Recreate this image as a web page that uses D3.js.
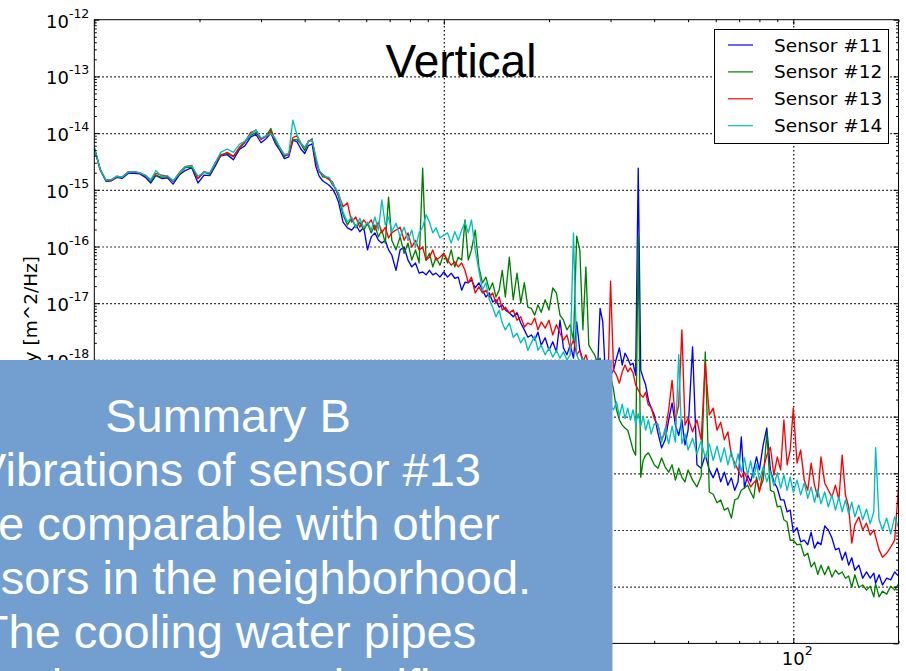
<!DOCTYPE html>
<html lang="en">
<head>
<meta charset="UTF-8">
<title>Vertical</title>
<script src="https://d3js.org/d3.v7.min.js"></script>
<style>
  body { margin: 0; background: #fff; overflow: hidden; }
  svg { display: block; }
  .grid line { stroke: #000; stroke-width: 1.2; stroke-dasharray: 1.5,2.5; }
  .grid path, .ticks path { display: none; }
  .ticks line { stroke: #000; stroke-width: 1; }
  .tick-label { font-family: "DejaVu Sans", sans-serif; fill: #000; }
  .legend text { font-family: "DejaVu Sans", sans-serif; font-size: 18.5px; fill: #000; }
  .psd { fill: none; stroke-width: 1.35; stroke-linejoin: round; }
  .note text { font-family: "Liberation Sans", Arial, sans-serif; font-size: 47px; fill: #fff; }
</style>
</head>
<body>
<svg></svg>
<script>
// frequency bins [Hz]
const freqs = [
  1.0,1.04,1.08,1.12,1.16,1.2,1.25,1.3,1.35,1.4,
  1.45,1.5,1.56,1.62,1.68,1.75,1.82,1.9,1.98,2.06,
  2.14,2.22,2.3,2.4,2.5,2.6,2.7,2.8,2.9,3.0,
  3.1,3.2,3.3,3.4,3.5,3.6,3.7,3.8,3.9,4.0,
  4.1,4.2,4.3,4.4,4.5,4.6,4.7,4.8,4.9,5.0,
  5.15,5.3,5.45,5.6,5.75,5.9,6.05,6.2,6.35,6.5,
  6.65,6.8,6.95,7.1,7.3,7.5,7.7,7.9,8.1,8.3,
  8.5,8.7,8.9,9.1,9.3,9.5,9.75,10.0,
  10.25,10.5,10.75,11,11.25,11.5,11.75,12,12.3,12.6,
  12.9,13.2,13.5,13.8,14.1,14.4,14.7,15,15.4,15.8,
  16.2,16.6,17,17.4,17.8,18.2,18.6,19,19.5,20,
  20.5,21,21.5,22,22.5,23,23.5,24,24.5,25,
  25.5,26,26.5,27,27.5,28,28.5,29,29.5,30,
  30.6,31.2,31.8,32.4,33,33.6,34.2,34.8,35.4,36,
  36.6,37.2,37.8,38.5,39.2,40,41,42,43,44,
  45,46,47,48,49,50,51.5,53,54.5,56,
  57.5,59,60.5,62,63.5,65,66.5,68,69.5,71,
  72.5,74,75.5,77,78.5,80,82,84,86,88,
  90,92,94,96,98,100,102.5,105,107.5,110,
  112.5,115,117.5,120,123,126,129,132,135,138,
  141,144,147,150,154,158,162,166,170,172,
  176,180,185,190,195,200
];

// log10 of the PSD [m^2/Hz], one value per bin
const sensor11 = [
  -14.26,-14.65,-14.85,-14.84,-14.78,-14.80,-14.71,-14.71,-14.72,-14.78,
  -14.88,-14.75,-14.80,-14.79,-14.90,-14.74,-14.66,-14.61,-14.88,-14.74,
  -14.75,-14.58,-14.40,-14.38,-14.47,-14.29,-14.22,-14.07,-14.02,-14.17,
  -14.10,-14.00,-14.19,-14.31,-14.45,-14.42,-14.13,-14.15,-14.28,-14.36,
  -14.22,-14.19,-14.58,-14.76,-14.84,-14.88,-14.92,-14.98,-15.08,-15.22,
  -15.57,-15.67,-15.71,-15.62,-15.74,-15.66,-16.06,-15.83,-15.76,-15.89,
  -15.94,-15.89,-16.06,-16.15,-16.42,-16.06,-16.01,-16.24,-16.36,-16.29,
  -16.47,-16.45,-16.50,-16.42,-16.50,-16.47,-16.54,-16.45,
  -16.54,-16.47,-16.56,-16.54,-16.77,-16.63,-16.64,-16.59,-16.73,-16.64,
  -16.77,-16.89,-16.82,-16.98,-16.94,-17.07,-17.03,-17.12,-17.17,-17.24,
  -17.17,-17.35,-17.47,-17.60,-17.56,-17.65,-17.51,-17.74,-17.61,-17.83,
  -17.68,-17.86,-17.30,-17.79,-17.91,-17.74,-17.97,-17.33,-17.83,-18.00,
  -18.09,-18.18,-18.27,-18.36,-18.27,-17.09,-17.33,-18.27,-18.36,-18.27,
  -18.18,-17.97,-17.79,-18.09,-17.88,-17.97,-18.09,-18.06,-18.27,-14.62,
  -18.18,-18.32,-18.44,-18.71,-18.85,-18.97,-19.29,-19.55,-19.41,-19.06,
  -18.76,-19.15,-19.33,-19.06,-19.50,-19.24,-17.77,-19.85,-19.91,-19.68,
  -19.94,-20.08,-19.91,-20.15,-19.98,-20.21,-20.08,-20.30,-20.15,-19.36,
  -20.26,-20.03,-20.15,-19.94,-19.71,-19.94,-19.50,-19.20,-19.94,-20.15,
  -20.26,-20.47,-20.47,-20.68,-20.65,-21.04,-20.96,-21.21,-21.18,-21.26,
  -21.04,-21.32,-21.21,-21.26,-20.93,-21.00,-21.14,-21.35,-21.32,-21.53,
  -21.39,-21.62,-21.49,-21.71,-21.62,-21.85,-21.74,-21.85,-21.76,-21.94,
  -21.79,-21.97,-21.85,-21.88,-21.74,-21.81
];
const sensor12 = [
  -14.26,-14.64,-14.84,-14.82,-14.77,-14.78,-14.70,-14.68,-14.71,-14.75,
  -14.85,-14.74,-14.78,-14.77,-14.85,-14.72,-14.61,-14.60,-14.80,-14.69,
  -14.73,-14.54,-14.38,-14.36,-14.42,-14.27,-14.16,-14.04,-13.99,-14.10,
  -14.05,-13.92,-14.17,-14.27,-14.41,-14.37,-14.12,-14.11,-14.19,-14.31,
  -14.15,-14.10,-14.50,-14.66,-14.77,-14.78,-14.81,-14.91,-14.98,-15.12,
  -15.44,-15.62,-15.50,-15.67,-15.57,-15.71,-15.59,-15.76,-15.62,-15.83,
  -15.71,-15.94,-15.13,-15.89,-16.06,-15.83,-16.12,-15.94,-16.24,-16.06,
  -16.29,-14.62,-16.24,-16.12,-16.36,-16.19,-16.33,-16.12,
  -16.29,-16.06,-16.36,-16.19,-16.24,-15.53,-16.24,-16.06,-15.71,-16.36,
  -16.64,-16.54,-16.77,-16.64,-16.89,-16.77,-16.42,-16.89,-16.19,-16.94,
  -16.47,-17.00,-16.64,-17.07,-17.09,-17.21,-17.03,-17.16,-16.94,-17.12,
  -16.73,-16.82,-17.21,-17.30,-17.47,-17.38,-17.65,-15.82,-16.06,-17.47,
  -16.36,-17.74,-17.83,-17.91,-18.04,-17.97,-18.14,-18.21,-18.32,-18.27,
  -18.53,-18.88,-19.06,-19.15,-19.20,-19.24,-19.41,-19.59,-19.68,-15.80,
  -20.07,-19.77,-19.68,-19.64,-19.73,-19.85,-19.91,-19.73,-19.89,-19.98,
  -19.85,-20.12,-19.91,-20.07,-20.15,-19.94,-20.12,-20.24,-20.05,-17.86,
  -20.33,-20.37,-20.52,-20.47,-20.65,-20.61,-20.79,-20.47,-20.44,-20.30,
  -20.26,-20.21,-20.33,-20.44,-20.07,-20.30,-20.12,-19.29,-20.30,-20.33,
  -20.59,-20.58,-20.82,-20.86,-21.18,-21.18,-21.26,-21.25,-21.46,-21.41,
  -21.65,-21.57,-21.78,-21.62,-21.79,-21.64,-21.83,-21.71,-21.78,-21.74,
  -21.85,-21.81,-22.01,-21.79,-22.01,-21.97,-22.06,-21.99,-22.18,-21.95,
  -22.18,-22.08,-22.13,-21.99,-22.06,-21.95
];
const sensor13 = [
  -14.26,-14.65,-14.83,-14.83,-14.76,-14.78,-14.68,-14.69,-14.70,-14.75,
  -14.82,-14.71,-14.74,-14.76,-14.85,-14.70,-14.59,-14.57,-14.80,-14.68,
  -14.71,-14.52,-14.40,-14.34,-14.41,-14.25,-14.15,-13.99,-13.95,-14.11,
  -14.06,-13.97,-14.12,-14.26,-14.39,-14.38,-14.08,-14.05,-14.18,-14.26,
  -14.14,-14.13,-14.45,-14.68,-14.73,-14.78,-14.82,-14.86,-14.99,-15.08,
  -15.30,-15.23,-15.57,-15.48,-15.66,-15.53,-15.62,-15.53,-15.71,-15.57,
  -15.76,-15.66,-15.85,-15.76,-15.71,-15.66,-15.89,-15.76,-16.01,-15.89,
  -16.06,-16.01,-16.24,-16.19,-16.06,-16.24,-16.19,-16.12,
  -16.24,-16.33,-16.27,-16.36,-16.29,-16.42,-16.64,-16.54,-16.82,-16.71,
  -16.82,-16.77,-16.89,-16.82,-17.00,-16.89,-17.12,-17.07,-17.17,-17.12,
  -17.30,-17.24,-17.42,-17.35,-17.38,-17.26,-17.47,-17.33,-17.44,-17.30,
  -17.56,-17.38,-17.53,-17.65,-17.56,-17.79,-17.65,-17.91,-17.83,-18.04,
  -17.91,-18.09,-18.18,-18.14,-18.27,-18.21,-18.36,-18.27,-18.44,-16.61,
  -18.18,-18.27,-18.41,-18.21,-18.09,-18.21,-18.14,-18.23,-18.44,-18.53,
  -18.62,-18.66,-18.57,-18.80,-18.83,-19.03,-19.15,-19.41,-19.27,-18.88,
  -18.36,-19.06,-18.80,-17.47,-19.15,-19.03,-19.27,-19.06,-19.41,-18.06,
  -18.97,-18.85,-19.24,-19.10,-19.41,-19.27,-19.68,-19.82,-19.94,-20.07,
  -19.98,-20.12,-20.24,-20.17,-20.12,-20.33,-19.94,-19.68,-19.54,-20.03,
  -19.71,-19.94,-19.06,-19.85,-19.59,-18.85,-19.82,-19.59,-20.12,-20.30,
  -19.82,-20.21,-20.42,-19.71,-20.17,-20.30,-20.42,-20.21,-20.47,-19.68,
  -20.38,-20.59,-21.23,-20.91,-20.77,-21.00,-20.88,-21.09,-21.00,-21.12,
  -21.35,-21.48,-21.41,-21.30,-21.18,-20.24
];
const sensor14 = [
  -14.25,-14.64,-14.83,-14.82,-14.76,-14.78,-14.69,-14.68,-14.70,-14.74,
  -14.83,-14.66,-14.77,-14.75,-14.84,-14.71,-14.59,-14.58,-14.76,-14.69,
  -14.70,-14.52,-14.34,-14.28,-14.34,-14.20,-14.14,-14.02,-13.94,-14.09,
  -14.05,-14.01,-14.10,-14.27,-14.38,-14.36,-13.77,-14.03,-14.18,-14.25,
  -14.15,-14.12,-14.40,-14.66,-14.72,-14.77,-14.78,-14.88,-14.97,-15.06,
  -15.39,-15.57,-15.48,-15.66,-15.50,-15.67,-15.57,-15.71,-15.48,-15.71,
  -15.18,-15.62,-15.48,-15.74,-15.59,-15.83,-15.66,-15.89,-15.71,-16.01,
  -15.76,-15.66,-15.44,-15.57,-15.76,-15.67,-15.85,-15.80,
  -15.76,-15.94,-15.74,-15.89,-15.71,-15.57,-15.76,-15.53,-16.06,-16.42,
  -16.77,-16.64,-16.94,-17.07,-17.24,-17.12,-17.35,-17.47,-17.35,-17.60,
  -17.53,-17.70,-17.60,-17.83,-17.70,-17.58,-17.83,-17.74,-17.91,-17.79,
  -17.95,-17.83,-17.97,-17.86,-18.00,-17.91,-15.76,-17.91,-18.04,-17.97,
  -18.09,-18.18,-18.14,-18.27,-18.36,-18.44,-18.53,-18.62,-18.71,-18.80,
  -18.88,-18.74,-18.99,-18.78,-19.03,-18.85,-19.06,-18.88,-19.13,-18.95,
  -19.17,-18.99,-19.24,-19.06,-19.31,-19.13,-19.13,-19.45,-19.20,-19.48,
  -19.17,-19.45,-17.91,-19.48,-19.31,-19.59,-19.38,-19.66,-19.43,-19.73,
  -19.48,-19.77,-19.52,-19.80,-19.55,-19.85,-19.61,-19.91,-19.66,-19.98,
  -19.73,-20.03,-19.78,-20.08,-19.84,-20.12,-19.89,-20.15,-19.96,-20.22,
  -19.99,-20.26,-20.03,-20.30,-20.07,-20.33,-20.12,-20.38,-20.17,-20.44,
  -20.24,-20.51,-20.28,-20.54,-20.33,-20.59,-20.38,-20.65,-20.42,-20.68,
  -20.47,-20.72,-20.51,-20.77,-20.56,-20.82,-20.63,-20.89,-20.68,-19.55,
  -20.82,-21.00,-20.79,-21.07,-20.77,-20.95
];

const sensorNames = ["Sensor #11", "Sensor #12", "Sensor #13", "Sensor #14"];
const sensorColors = ["#0000ff", "#008000", "#ff0000", "#00bfbf"];
const yTickExponents = [-12, -13, -14, -15, -16, -17, -18, -19, -20, -21, -22, -23];
const xTickExponents = [0, 1, 2];
const noteLines = [
  "Summary B",
  "Vibrations of sensor #13",
  "are comparable with other",
  "sensors in the neighborhood.",
  "The cooling water pipes",
  "vibrations are not significant"
];

const width = 906, height = 671;
const plotLeft = 94.3, plotRight = 898.5, plotTop = 19.7, plotBottom = 643.4;
// slide text box that covers the lower left of the chart
const noteBox = { x: -300, y: 360, w: 912.5, h: 400 };
const underNote = (px, py) => px < noteBox.x + noteBox.w && py > noteBox.y + 6;

const svg = d3.select("svg").attr("width", width).attr("height", height);
svg.append("rect").attr("width", width).attr("height", height).attr("fill", "#fff");

const x = d3.scaleLog().domain([1, 200]).range([plotLeft, plotRight]);
const y = d3.scaleLog().domain([1e-23, 1e-12]).range([plotBottom, plotTop]);

const majorX = xTickExponents.map(e => Math.pow(10, e));
const majorY = yTickExponents.map(e => Math.pow(10, e));
const minorX = [];
xTickExponents.forEach(e => d3.range(2, 10).forEach(k => {
  const v = k * Math.pow(10, e);
  if (v <= 200) minorX.push(v);
}));
const minorY = [];
yTickExponents.slice(1).forEach(e => d3.range(2, 10).forEach(k => minorY.push(k * Math.pow(10, e))));

// dotted grid
svg.append("g").attr("class", "grid")
  .attr("transform", `translate(${plotLeft},0)`)
  .call(d3.axisLeft(y).tickValues(majorY.slice(1, -1)).tickSize(-(plotRight - plotLeft)).tickFormat(""));
svg.append("g").attr("class", "grid")
  .attr("transform", `translate(0,${plotBottom})`)
  .call(d3.axisBottom(x).tickValues(majorX.slice(1)).tickSize(-(plotBottom - plotTop)).tickFormat(""));

// data
svg.append("clipPath").attr("id", "plot-clip")
  .append("rect").attr("x", plotLeft).attr("y", plotTop)
  .attr("width", plotRight - plotLeft).attr("height", plotBottom - plotTop);

const line = d3.line().x(d => x(d[0])).y(d => y(d[1]));
const series = [sensor11, sensor12, sensor13, sensor14];
svg.append("g").attr("clip-path", "url(#plot-clip)")
  .selectAll("path").data(series).join("path")
  .attr("class", "psd")
  .attr("stroke", (d, i) => sensorColors[i])
  .attr("d", s => line(freqs.map((f, i) => [f, Math.pow(10, s[i])])));

// frame and inward ticks on all four sides
svg.append("rect").attr("x", plotLeft).attr("y", plotTop)
  .attr("width", plotRight - plotLeft).attr("height", plotBottom - plotTop)
  .attr("fill", "none").attr("stroke", "#000").attr("stroke-width", 1);

function ticks(axis, scale, values, size, transform) {
  svg.append("g").attr("class", "ticks").attr("transform", transform)
    .call(axis(scale).tickValues(values).tickSize(-size).tickFormat(""));
}
ticks(d3.axisLeft, y, majorY, 5, `translate(${plotLeft},0)`);
ticks(d3.axisLeft, y, minorY, 2.5, `translate(${plotLeft},0)`);
ticks(d3.axisRight, y, majorY, 5, `translate(${plotRight},0)`);
ticks(d3.axisRight, y, minorY, 2.5, `translate(${plotRight},0)`);
ticks(d3.axisBottom, x, majorX, 5, `translate(0,${plotBottom})`);
ticks(d3.axisBottom, x, minorX, 2.5, `translate(0,${plotBottom})`);
ticks(d3.axisTop, x, majorX, 5, `translate(0,${plotTop})`);
ticks(d3.axisTop, x, minorX, 2.5, `translate(0,${plotTop})`);

// tick labels 10^n (those hidden under the slide box are skipped)
const yLab = svg.append("g").selectAll("text")
  .data(yTickExponents.filter(e => !underNote(plotLeft - 20, y(Math.pow(10, e)))))
  .join("text")
  .attr("class", "tick-label")
  .attr("text-anchor", "end")
  .attr("x", plotLeft - 5)
  .attr("y", e => y(Math.pow(10, e)) + 8);
yLab.append("tspan").attr("font-size", 18).text("10");
yLab.append("tspan").attr("font-size", 12.5).attr("dy", -10).text(e => String(e));

const xLab = svg.append("g").selectAll("text")
  .data(xTickExponents.filter(e => !underNote(x(Math.pow(10, e)), plotBottom + 15)))
  .join("text")
  .attr("class", "tick-label")
  .attr("text-anchor", "middle")
  .attr("x", e => x(Math.pow(10, e)) + 4)
  .attr("y", plotBottom + 22);
xLab.append("tspan").attr("font-size", 18).text("10");
xLab.append("tspan").attr("font-size", 12.5).attr("dy", -10).text(e => String(e));

svg.append("text").attr("class", "tick-label")
  .attr("transform", `translate(36.5,256) rotate(-90)`)
  .attr("text-anchor", "end").attr("font-size", 18.5)
  .text("Power Spectral Density [m^2/Hz]");

// title
svg.append("text")
  .attr("x", 461).attr("y", 77)
  .attr("text-anchor", "middle")
  .attr("font-family", "'Liberation Sans', Arial, sans-serif")
  .attr("font-size", 46)
  .text("Vertical");

// legend
const legend = svg.append("g").attr("class", "legend");
legend.append("rect").attr("x", 714.5).attr("y", 29.5).attr("width", 174).attr("height", 114)
  .attr("fill", "#fff").attr("stroke", "#000").attr("stroke-width", 1);
const rows = legend.selectAll("g.row").data(sensorNames).join("g")
  .attr("class", "row")
  .attr("transform", (d, i) => `translate(0,${45 + i * 26.9})`);
rows.append("line").attr("x1", 728).attr("x2", 753)
  .attr("stroke", (d, i) => sensorColors[i]).attr("stroke-width", 1.2);
rows.append("text").attr("x", 774).attr("y", 6.5).text(d => d);

// summary overlay
const note = svg.append("g").attr("class", "note");
note.append("rect").attr("x", noteBox.x).attr("y", noteBox.y)
  .attr("width", noteBox.w).attr("height", noteBox.h)
  .attr("fill", "#729fcf");
note.selectAll("text").data(noteLines).join("text")
  .attr("x", 228).attr("y", (d, i) => 432 + i * 54)
  .attr("text-anchor", "middle")
  .text(d => d);
</script>
</body>
</html>
